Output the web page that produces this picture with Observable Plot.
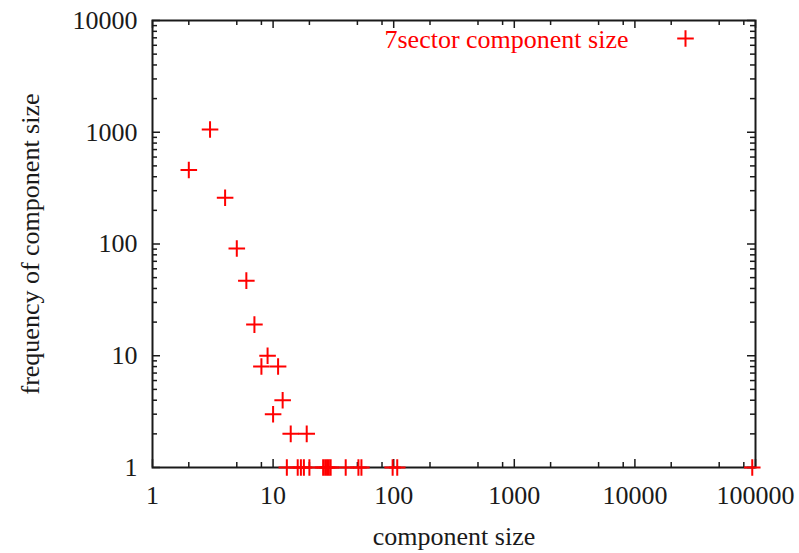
<!DOCTYPE html>
<html>
<head>
<meta charset="utf-8">
<script src="https://cdn.jsdelivr.net/npm/d3@7"></script>
<script src="https://cdn.jsdelivr.net/npm/@observablehq/plot@0.6"></script>
<style>
  html, body { margin: 0; padding: 0; background: #fff; }
  #chart { width: 799px; height: 553px; }
</style>
</head>
<body>
<div id="chart"></div>
<script>
// ---- data ----
const componentSize = [2, 3, 4, 5, 6, 7, 8, 9, 10, 11, 12, 13, 14, 16, 17, 18, 19, 20, 26, 27, 28, 29, 30, 40, 51, 54, 98, 107, 94000];
const frequency     = [460, 1060, 259, 91, 47, 19, 8, 10, 3, 8, 4, 1, 2, 1, 1, 1, 2, 1, 1, 1, 1, 1, 1, 1, 1, 1, 1, 1, 1];
const seriesLabel = "7sector component size";
const xLabel = "component size";
const yLabel = "frequency of component size";
const xTickValues = [1, 10, 100, 1000, 10000, 100000];
const yTickValues = [1, 10, 100, 1000, 10000];
const xMinorMultipliers = [2, 5, 8];
const yMinorMultipliers = [2, 3, 4, 5, 6, 7, 8, 9];

const points = componentSize.map((s, i) => ({size: s, freq: frequency[i]}));
const xMinor = xTickValues.slice(0, -1).flatMap(d => xMinorMultipliers.map(m => d * m));
const yMinor = yTickValues.slice(0, -1).flatMap(d => yMinorMultipliers.map(m => d * m));

// ---- layout ----
const W = 799, H = 553;
const mL = 152, mR = 44, mT = 20, mB = 86;
const pw = W - mL - mR, ph = H - mT - mB;
const ink = "#1a1a1a";
const red = "#ff0000";
const majorLen = 8, minorLen = 5;
const plusR = 5.4;

const chart = Plot.plot({
  width: W,
  height: H,
  marginLeft: mL,
  marginRight: mR,
  marginTop: mT,
  marginBottom: mB,
  style: {fontFamily: "'Liberation Serif', 'DejaVu Serif', serif", fontSize: "26px", background: "#fff", color: ink},
  x: {type: "log", domain: [1, 100000], label: null},
  y: {type: "log", domain: [1, 10000], label: null},
  marks: [
    // tick labels
    Plot.axisX({ticks: xTickValues, tickSize: 0, tickPadding: 18, tickFormat: d => String(d), label: null, fill: ink}),
    Plot.axisY({ticks: yTickValues, tickSize: 0, tickPadding: 15, tickFormat: d => String(d), label: null, fill: ink}),
    // inward ticks, mirrored on all four sides
    Plot.tickX(xTickValues, {x: d => d, insetTop: ph - majorLen, stroke: ink, strokeWidth: 1.5}),
    Plot.tickX(xTickValues, {x: d => d, insetBottom: ph - majorLen, stroke: ink, strokeWidth: 1.5}),
    Plot.tickX(xMinor, {x: d => d, insetTop: ph - minorLen, stroke: ink, strokeWidth: 1.5}),
    Plot.tickX(xMinor, {x: d => d, insetBottom: ph - minorLen, stroke: ink, strokeWidth: 1.5}),
    Plot.tickY(yTickValues, {y: d => d, insetRight: pw - majorLen, stroke: ink, strokeWidth: 1.5}),
    Plot.tickY(yTickValues, {y: d => d, insetLeft: pw - majorLen, stroke: ink, strokeWidth: 1.5}),
    Plot.tickY(yMinor, {y: d => d, insetRight: pw - minorLen, stroke: ink, strokeWidth: 1.5}),
    Plot.tickY(yMinor, {y: d => d, insetLeft: pw - minorLen, stroke: ink, strokeWidth: 1.5}),
    Plot.frame({stroke: ink, strokeWidth: 2}),
    // axis titles
    Plot.text([xLabel], {text: d => d, frameAnchor: "bottom", dy: 69, textAnchor: "middle", lineAnchor: "middle", fill: ink}),
    Plot.text([yLabel], {text: d => d, frameAnchor: "left", dx: -122, rotate: -90, textAnchor: "middle", lineAnchor: "middle", fill: ink}),
    // data
    Plot.dot(points, {x: "size", y: "freq", symbol: "plus", r: plusR, stroke: red, strokeWidth: 2}),
    // key
    Plot.text([seriesLabel], {text: d => d, frameAnchor: "top-right", dx: -127, dy: 19, textAnchor: "end", lineAnchor: "middle", fill: red}),
    Plot.dot([seriesLabel], {frameAnchor: "top-right", dx: -70, dy: 18, symbol: "plus", r: plusR, stroke: red, strokeWidth: 2})
  ]
});
document.getElementById("chart").appendChild(chart);
</script>
</body>
</html>
